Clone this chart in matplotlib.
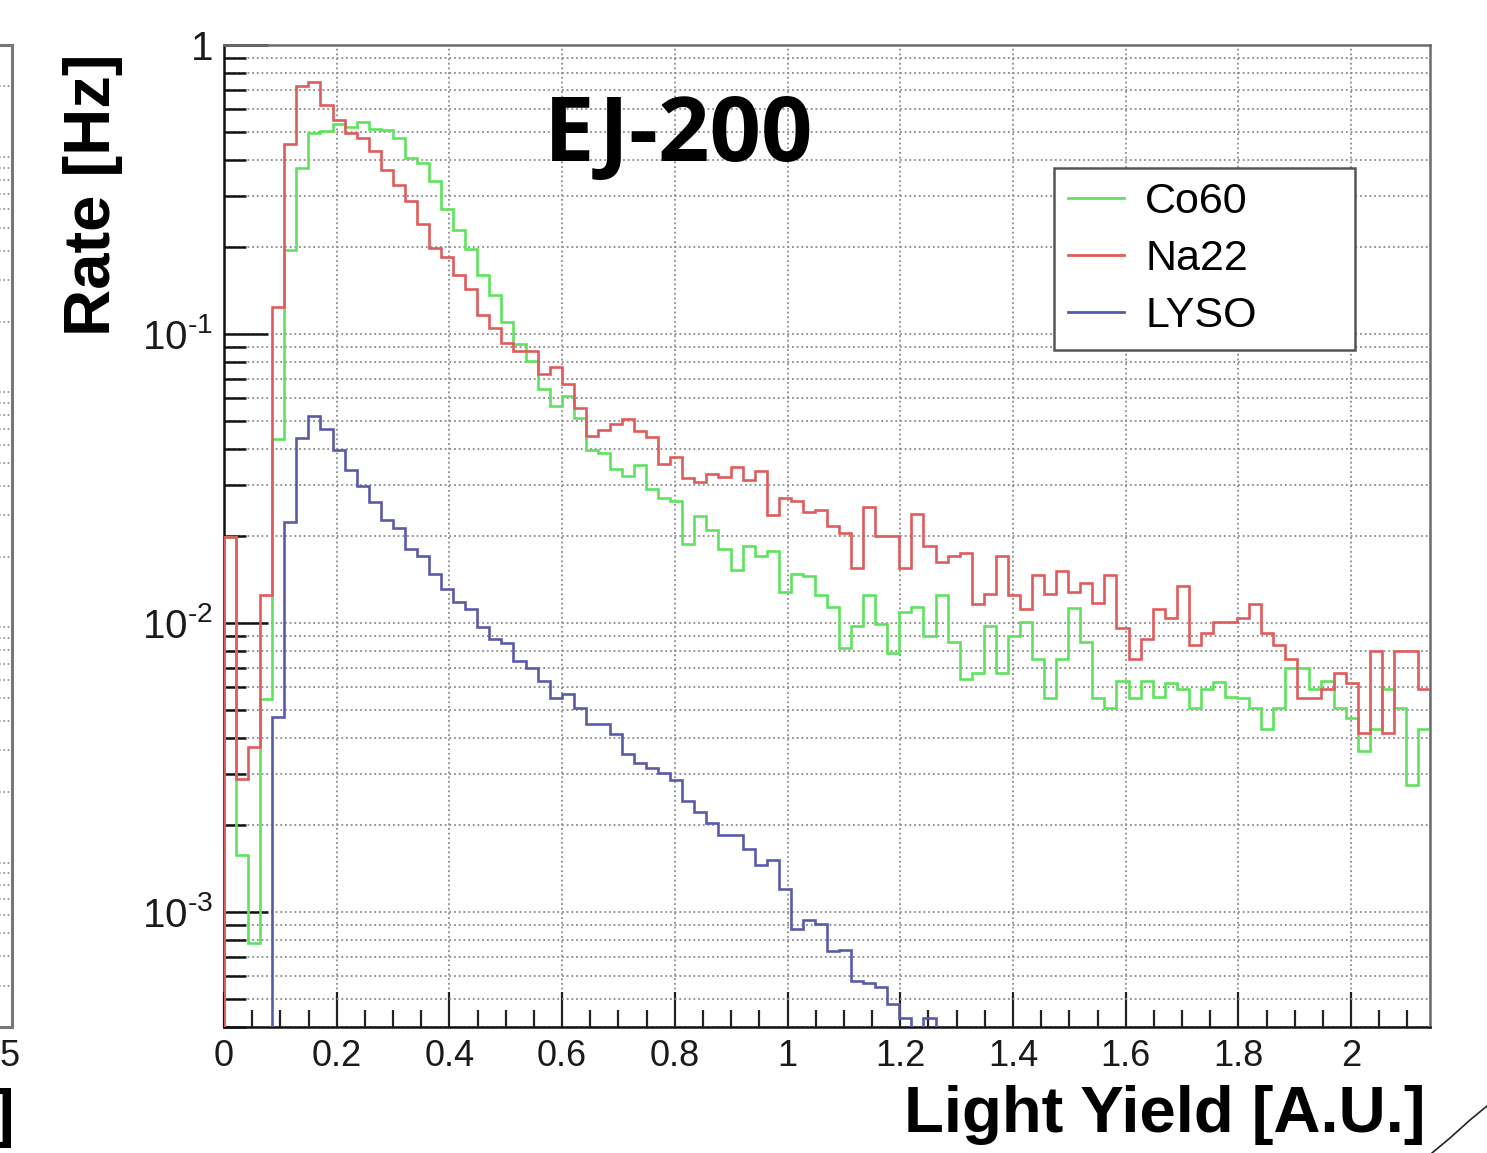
import numpy as np
import matplotlib
matplotlib.use("Agg")
import matplotlib.pyplot as plt
from matplotlib.ticker import FixedLocator, MultipleLocator, FuncFormatter, LogLocator, NullFormatter
from matplotlib.lines import Line2D

# ---------------- data ----------------
bin_width = 0.0214
n_bins = 100
x_ticks = [0, 0.2, 0.4, 0.6, 0.8, 1, 1.2, 1.4, 1.6, 1.8, 2]
series_labels = ["Co60", "Na22", "LYSO"]

co60 = [0.0199, 0.00158, 0.00078, 0.00547, 0.0432, 0.195, 0.376, 0.495, 0.502, 0.532,
        0.522, 0.543, 0.512, 0.508, 0.478, 0.408, 0.392, 0.338, 0.270, 0.229,
        0.197, 0.160, 0.136, 0.110, 0.092, 0.0808, 0.0644, 0.0564, 0.0610, 0.0514,
        0.0397, 0.0386, 0.0340, 0.0322, 0.0351, 0.0290, 0.0271, 0.0264, 0.0188, 0.0234,
        0.0209, 0.0180, 0.0153, 0.0184, 0.0170, 0.0178, 0.0128, 0.0148, 0.0145, 0.0125,
        0.0114, 0.0082, 0.0098, 0.0125, 0.0099, 0.0079, 0.0109, 0.0114, 0.0090, 0.0125,
        0.0086, 0.0064, 0.0067, 0.0098, 0.0067, 0.0090, 0.0101, 0.0075, 0.0055, 0.0075,
        0.0113, 0.0086, 0.0055, 0.0051, 0.0063, 0.0055, 0.0063, 0.00555, 0.0062, 0.0059,
        0.0051, 0.0059, 0.00626, 0.00555, 0.0055, 0.0051, 0.0043, 0.0051, 0.0070, 0.0070,
        0.0059, 0.0063, 0.0051, 0.0047, 0.0036, 0.0043, 0.0059, 0.0051, 0.00274, 0.0043]

na22 = [0.0199, 0.00289, 0.00372, 0.01245, 0.124, 0.453, 0.722, 0.744, 0.621, 0.550,
        0.495, 0.478, 0.430, 0.369, 0.327, 0.288, 0.241, 0.198, 0.185, 0.160,
        0.143, 0.116, 0.105, 0.093, 0.0875, 0.0875, 0.0727, 0.0766, 0.067, 0.0556,
        0.0444, 0.0465, 0.0487, 0.0510, 0.0462, 0.0441, 0.0356, 0.0376, 0.0318, 0.0307,
        0.0327, 0.0321, 0.0347, 0.0312, 0.0335, 0.0237, 0.0271, 0.0264, 0.0242, 0.0247,
        0.0216, 0.0205, 0.0155, 0.0252, 0.0200, 0.0200, 0.0155, 0.0238, 0.0184, 0.0163,
        0.0171, 0.0175, 0.0116, 0.0126, 0.0171, 0.0125, 0.0112, 0.0146, 0.0126, 0.0151,
        0.0128, 0.0137, 0.0117, 0.0146, 0.0096, 0.0075, 0.0088, 0.0112, 0.0104, 0.0134,
        0.0084, 0.0092, 0.0101, 0.0101, 0.0104, 0.0116, 0.0092, 0.0084, 0.0075, 0.0055,
        0.0055, 0.0059, 0.0067, 0.0062, 0.00416, 0.0080, 0.00416, 0.0080, 0.0080, 0.0059]

lyso = [0, 0, 0, 0, 0.00472, 0.0224, 0.0437, 0.052, 0.0469, 0.0398,
        0.0338, 0.0297, 0.0262, 0.0228, 0.0214, 0.0180, 0.0171, 0.0148, 0.0131, 0.0118,
        0.0112, 0.0097, 0.0088, 0.0085, 0.0074, 0.0070, 0.0063, 0.0055, 0.0057, 0.0051,
        0.00446, 0.00446, 0.00414, 0.00353, 0.00327, 0.00315, 0.00302, 0.00286, 0.00242, 0.00221,
        0.00203, 0.00184, 0.00184, 0.00165, 0.00145, 0.00151, 0.0012, 0.00087, 0.00094, 0.00091,
        0.00073, 0.00074, 0.000575, 0.00057, 0.00055, 0.00048, 0.00043, 0, 0.00043, 0,
        0, 0, 0, 0, 0, 0, 0, 0, 0, 0,
        0, 0, 0, 0, 0, 0, 0, 0, 0, 0,
        0, 0, 0, 0, 0, 0, 0, 0, 0, 0,
        0, 0, 0, 0, 0, 0, 0, 0, 0, 0]

colors = ["#5fe35f", "#e05c5c", "#5a5aaa"]

# ---------------- figure ----------------
plt.rcParams['font.family'] = ['Liberation Sans', 'DejaVu Sans']
plt.rcParams['mathtext.fontset'] = 'custom'
plt.rcParams['mathtext.rm'] = 'Liberation Sans'
plt.rcParams['mathtext.it'] = 'Liberation Sans:italic'
plt.rcParams['mathtext.bf'] = 'Liberation Sans:bold'

W, H = 1487, 1153
fig = plt.figure(figsize=(W / 100, H / 100), dpi=100)
fig.patch.set_facecolor('white')

L, R, T, B = 224, 1430, 45, 1027
ax = fig.add_axes([L / W, 1 - B / H, (R - L) / W, (B - T) / H])

edges = np.arange(n_bins + 1) * bin_width
floor = 1e-9
for vals, c, lab in zip([co60, na22, lyso], colors, series_labels):
    v = np.asarray(vals, dtype=float)
    v = np.where(v > 0, v, floor)
    ax.stairs(v, edges, baseline=floor, color=c, lw=1.9, label=lab, zorder=3)

ax.set_yscale('log')
ax.set_xlim(0, edges[-1])
ax.set_ylim(4.0e-4, 1.0)

# ticks
ax.xaxis.set_major_locator(FixedLocator(x_ticks))
ax.xaxis.set_minor_locator(MultipleLocator(0.05))
ax.xaxis.set_major_formatter(FuncFormatter(lambda v, p: "%g" % v))
ax.yaxis.set_major_locator(LogLocator(base=10, numticks=10))
ax.yaxis.set_minor_locator(LogLocator(base=10, subs=np.arange(2, 10), numticks=20))
ax.yaxis.set_minor_formatter(NullFormatter())


def yfmt(v, p):
    e = int(round(np.log10(v)))
    if e == 0:
        return "1"
    return r"$\mathregular{10^{\text{-}%d}}$" % (-e)


ax.yaxis.set_major_formatter(FuncFormatter(yfmt))
ax.tick_params(axis='x', which='major', direction='in', length=25, width=1.6,
               labelsize=26, pad=9, top=False, color='#222222')
ax.tick_params(axis='x', which='minor', direction='in', length=12, width=1.6,
               top=False, color='#222222')
ax.tick_params(axis='y', which='major', direction='in', length=32, width=1.8,
               labelsize=29, pad=8, right=False, color='#111111')
ax.tick_params(axis='y', which='minor', direction='in', length=16, width=1.8,
               right=False, color='#111111')
for lab in ax.get_xticklabels() + ax.get_yticklabels():
    lab.set_color('#1a1a1a')

# grid
ax.grid(True, axis='x', which='major', color='#8a8a8a', lw=1.3, ls=(0, (1, 1.6)), zorder=1)
ax.grid(True, axis='y', which='both', color='#8a8a8a', lw=1.3, ls=(0, (1, 1.6)), zorder=1)
ax.set_axisbelow(True)

for side, sp in ax.spines.items():
    sp.set_linewidth(1.8)
    sp.set_color('#111111' if side in ('left', 'bottom') else '#6a6a6a')

# legend
leg = ax.legend(loc='upper left', bbox_to_anchor=((1054 - L) / (R - L), 1 - (168 - T) / (B - T),
                                                  301 / (R - L), 0.0),
                mode='expand', fontsize=31, handlelength=1.3, handletextpad=0.5,
                labelspacing=0.4, borderpad=0.32, borderaxespad=0, fancybox=False,
                framealpha=1, edgecolor='#555555', frameon=True)
leg.get_frame().set_linewidth(1.8)
for line in leg.get_lines():
    line.set_linewidth(2.0)

# title inside the frame
fig.text(679 / W, 1 - 138 / H, "EJ-200", fontsize=65, fontweight='bold',
         family=['Open Sans', 'Liberation Sans'], ha='center', va='center', color='black')

# axis labels
fig.text(93 / W, 1 - 195 / H, "Rate [Hz]", rotation=90, fontsize=47, fontweight='bold',
         ha='center', va='center', color='black')
fig.text(1425 / W, 1 - 1115 / H, "Light Yield [A.U.]", fontsize=47, fontweight='bold',
         ha='right', va='center', color='black')

# partial neighbouring panel at the far left (cropped in the reference)
ax2 = fig.add_axes([-0.3, 1 - B / H, 0.3 + 12 / W, (B - T) / H])
ax2.set_yscale('log')
ax2.set_ylim(2e-4, 3.0)
ax2.set_xlim(0, 1)
ax2.yaxis.set_minor_locator(LogLocator(base=10, subs=np.arange(2, 10), numticks=20))
ax2.grid(True, axis='y', which='both', color='#8a8a8a', lw=1.2, ls=(0, (1, 1.6)))
ax2.tick_params(which='both', length=0, labelleft=False, labelbottom=False)
for side, sp in ax2.spines.items():
    sp.set_color('#777777')
    sp.set_linewidth(2.2)
fig.text(20 / W, 1 - 1056 / H, "5", fontsize=26, ha='right', va='center', color='#1a1a1a')
fig.text(14 / W, 1 - 1118 / H, "]", fontsize=47, fontweight='bold', ha='right', va='center')

# slide decoration at bottom-right corner
fig.add_artist(Line2D([1432 / W, 1450 / W, 1470 / W, 1487 / W],
                      [1 - 1153 / H, 1 - 1138 / H, 1 - 1120 / H, 1 - 1106 / H],
                      transform=fig.transFigure, color='#222222', lw=1.2))

fig.savefig("out.png", dpi=100, facecolor='white')
